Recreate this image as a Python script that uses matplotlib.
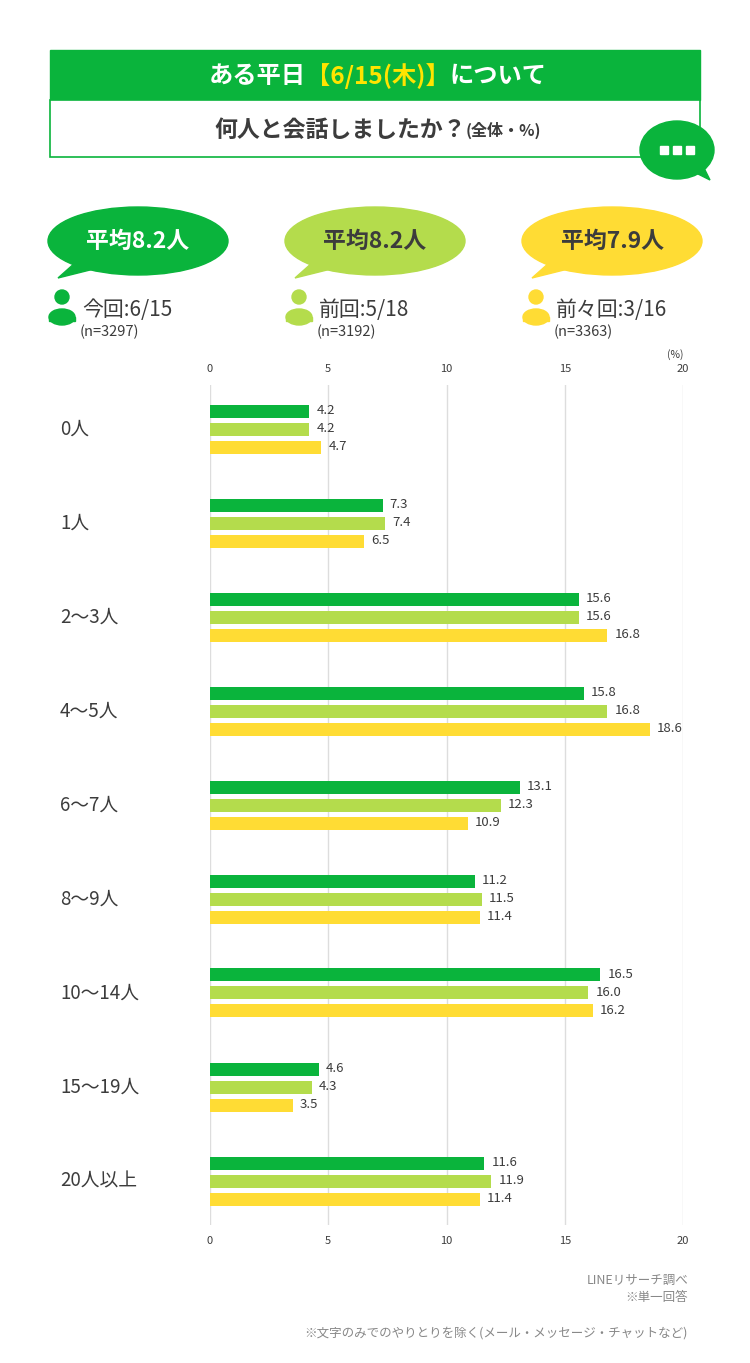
import matplotlib.pyplot as plt
from matplotlib.patches import Rectangle, Ellipse, Polygon, Circle
import matplotlib.transforms as mtransforms

plt.rcParams['font.family'] = ['Noto Sans CJK JP', 'DejaVu Sans']

categories = ['0人', '1人', '2〜3人', '4〜5人', '6〜7人', '8〜9人', '10〜14人', '15〜19人', '20人以上']
this_time = [4.2, 7.3, 15.6, 15.8, 13.1, 11.2, 16.5, 4.6, 11.6]
last_time = [4.2, 7.4, 15.6, 16.8, 12.3, 11.5, 16.0, 4.3, 11.9]
before_last = [4.7, 6.5, 16.8, 18.6, 10.9, 11.4, 16.2, 3.5, 11.4]
series_names = ['今回:6/15', '前回:5/18', '前々回:3/16']
series_n = ['(n=3297)', '(n=3192)', '(n=3363)']
averages = ['平均8.2人', '平均8.2人', '平均7.9人']
xticks = [0, 5, 10, 15, 20]

GREEN = '#0AB43C'
LIGHT = '#B4DC4C'
YELLOW = '#FFDC34'
DARK = '#3C3C3C'
colors = [GREEN, LIGHT, YELLOW]

W, H = 750, 1363
fig = plt.figure(figsize=(W / 100, H / 100), dpi=100)

deco = fig.add_axes([0, 0, 1, 1])
deco.set_xlim(0, W)
deco.set_ylim(H, 0)
deco.axis('off')


def text_row(pieces, cx, y):
    # place pieces of text side by side, centred on cx
    renderer = fig.canvas.get_renderer()
    objs, widths = [], []
    for s, col, size in pieces:
        t = deco.text(0, y, s, color=col, fontsize=size, fontweight='bold', ha='left', va='center')
        bb = t.get_window_extent(renderer)
        objs.append(t)
        widths.append(bb.width)
    x = cx - sum(widths) / 2
    for t, w in zip(objs, widths):
        t.set_x(x)
        x += w


deco.add_patch(Rectangle((50, 50), 650, 50, color=GREEN))
deco.add_patch(Rectangle((50, 100), 650, 57, facecolor='white', edgecolor=GREEN, lw=1.2))
text_row([('ある平日', 'white', 17.5), ('【6/15(木)】', '#FFE400', 17.5), ('について', 'white', 17.5)], 378, 76)
text_row([('何人と会話しましたか？', DARK, 16.5), ('(全体・%)', DARK, 11.5)], 378, 130)

deco.add_patch(Ellipse((677, 150), 74, 58, color=GREEN))
deco.add_patch(Polygon([[690, 170], [710, 180], [700, 160]], color=GREEN))
for dx in (-13, 0, 13):
    deco.add_patch(Rectangle((677 + dx - 4, 146), 8, 8, color='white'))

centers = [138, 375, 612]
for cx, col, avg, name, n in zip(centers, colors, averages, series_names, series_n):
    deco.add_patch(Ellipse((cx, 241), 180, 68, color=col))
    deco.add_patch(Polygon([[cx - 62, 262], [cx - 80, 278], [cx - 40, 268]], color=col))
    deco.text(cx, 241, avg, color='white' if col == GREEN else DARK, fontsize=16.5,
              fontweight='bold', ha='center', va='center')
    ix = cx - 76
    deco.add_patch(Circle((ix, 297), 7, color=col))
    deco.add_patch(Ellipse((ix, 317), 26, 16, color=col))
    deco.add_patch(Rectangle((ix - 13, 317), 26, 4, color=col))
    deco.text(ix + 20, 310, name, color=DARK, fontsize=15, ha='left', va='center')
    deco.text(ix + 18, 332, n, color=DARK, fontsize=10.5, ha='left', va='center')

deco.text(683, 355, '(%)', color=DARK, fontsize=7.5, ha='right', va='center')
deco.text(688, 1280, 'LINEリサーチ調べ', color='#888888', fontsize=9, ha='right', va='center')
deco.text(688, 1298, '※単一回答', color='#888888', fontsize=9, ha='right', va='center')
deco.text(688, 1333, '※文字のみでのやりとりを除く(メール・メッセージ・チャットなど)',
          color='#888888', fontsize=9, ha='right', va='center')

top, bot, left, right = 385, 1225, 210, 683
ax = fig.add_axes([left / W, 1 - bot / H, (right - left) / W, (bot - top) / H])
ax.patch.set_alpha(0)
step = 94.0
ax.set_ylim((bot - 429) / step, (top - 429) / step)
ax.set_xlim(0, 20)
off = 18 / step
bh = 13 / step
for k, (vals, col) in enumerate(zip([this_time, last_time, before_last], colors)):
    ys = [i + (k - 1) * off for i in range(len(categories))]
    ax.barh(ys, vals, height=bh, color=col, zorder=3)
    for y, v in zip(ys, vals):
        ax.text(v + 0.3, y, f'{v:.1f}', fontsize=9.5, color=DARK, va='center', ha='left', zorder=4)

ax.set_xticks(xticks)
ax.grid(axis='x', color='#DDDDDD', lw=1, zorder=0)
ax.set_yticks([])
ax.tick_params(axis='x', length=0, labelsize=8, labelcolor=DARK, top=False,
               labeltop=True, labelbottom=True, pad=8)
for s in ax.spines.values():
    s.set_visible(False)

trans = mtransforms.blended_transform_factory(fig.transFigure, ax.transData)
for i, c in enumerate(categories):
    fig.text(60 / W, i, c, transform=trans, fontsize=13.5, color=DARK, ha='left', va='center')

fig.savefig('out.png', dpi=100)
